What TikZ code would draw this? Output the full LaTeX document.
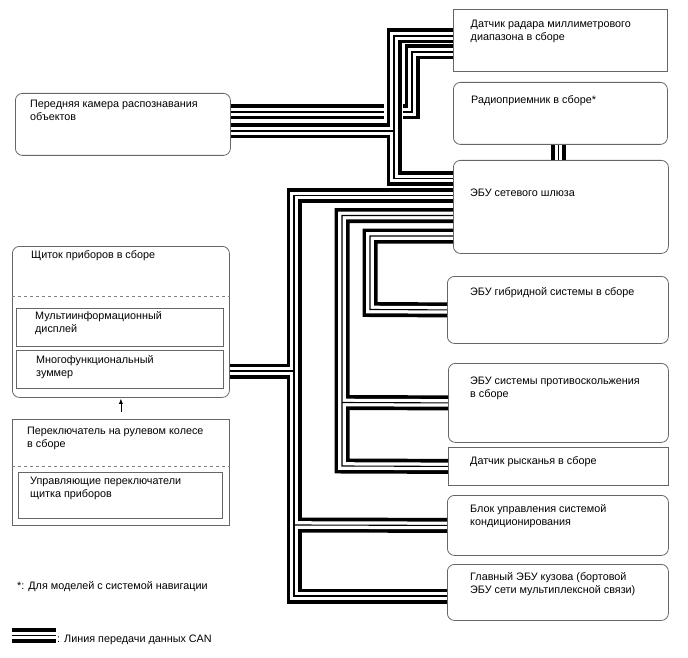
\documentclass[tikz,border=0pt]{standalone}
\usepackage{fontspec}
\setmainfont{Liberation Sans}
\usetikzlibrary{arrows.meta}

\tikzset{
  rbox/.style={draw=black!60, line width=0.8pt, rounded corners=7pt, anchor=north west, inner sep=0pt},
  sbox/.style={draw=black!60, line width=0.8pt, anchor=north west, inner sep=0pt},
  txt/.style={anchor=north west, align=left, inner sep=0pt, font=\fontsize{10.8}{13}\selectfont},
  divider/.style={draw=black!50, dashed, line width=0.6pt},
  busout/.style={line width=15pt, black},
  busin/.style={line width=7.6pt, white},
  buswire/.style={line width=1.1pt, black},
}

% all CAN lines, drawn once per layer
\newcommand\cannet[1]{%
  \draw[#1] (cam.east |- brL) -- (brL);
  \draw[#1] (brR) -- (a2) -- (a1) -- (radar.west |- a1);
  \draw[#1] (radar.west |- k1) -- (k1) -- (k1b) -- (gw.west |- k1b);
  \draw[#1] (cam.east |- j1) -- (j1);
  \draw[#1] (gw.west |- k2) -- (k2) -- (k2b) -- (mb.west |- k2b);
  \draw[#1] (cl.east |- j2) -- (j2);
  \draw[#1] (ac.west) -- (j3);
  \draw[#1] (gw.west |- k3) -- (k3) -- (k3b) -- (yaw.west);
  \draw[#1] (vsc.west) -- (j4);
  \draw[#1] (gw.west |- k4) -- (k4) -- (k4b) -- (hyb.west);
  \draw[#1] (radio.south -| k5) -- (gw.north -| k5);
  \draw[#1] (lg1) -- (lg2);
}

\begin{document}
\begin{tikzpicture}[x=1pt, y=-1pt]
    \useasboundingbox (0,0) rectangle (688,658);

    % right column
    \node[sbox, minimum width=214pt, minimum height=62pt] (radar) at (453,9) {};
    \node[rbox, minimum width=214pt, minimum height=62pt] (radio) at (453,82) {};
    \node[rbox, minimum width=215pt, minimum height=93pt] (gw) at (453,160) {};
    \node[rbox, minimum width=221pt, minimum height=67pt] (hyb) at (447,276) {};
    \node[rbox, minimum width=220pt, minimum height=79pt] (vsc) at (448,363) {};
    \node[sbox, minimum width=220pt, minimum height=38pt] (yaw) at (448,447) {};
    \node[rbox, minimum width=221pt, minimum height=60pt] (ac) at (447,495) {};
    \node[rbox, minimum width=221pt, minimum height=56pt] (mb) at (447,564) {};

    % left column
    \node[rbox, minimum width=215pt, minimum height=62pt] (cam) at (15,93) {};
    \node[rbox, minimum width=217pt, minimum height=151pt] (cl) at (12,246) {};
    \node[sbox, minimum width=207pt, minimum height=38pt] (mid) at (16,308) {};
    \node[sbox, minimum width=207pt, minimum height=38pt] (buz) at (16,350) {};
    \node[sbox, minimum width=217pt, minimum height=106pt] (sw) at (12,419) {};
    \node[sbox, minimum width=204pt, minimum height=46pt] (ctl) at (18,472) {};
    \draw[divider] ([yshift=-50pt]cl.north west) -- ([yshift=-50pt]cl.north east);
    \draw[divider] ([yshift=-47pt]sw.north west) -- ([yshift=-47pt]sw.north east);
    \draw[-{Latex[length=5pt,width=4pt]}, line width=0.6pt, shorten <=7pt, shorten >=1pt] (sw.north) -- (cl.south);

    % labels
    \node[txt] (radar-t) at (470.5,19.8) {Датчик радара миллиметрового\\диапазона в сборе};
    \node[txt] (radio-t) at (471,95.3) {Радиоприемник в сборе*};
    \node[txt] (gw-t) at (470,188.8) {ЭБУ сетевого шлюза};
    \node[txt] (hyb-t) at (470,287.3) {ЭБУ гибридной системы в сборе};
    \node[txt] (vsc-t) at (470,376.8) {ЭБУ системы противоскольжения\\в сборе};
    \node[txt] (yaw-t) at (470,456.3) {Датчик рысканья в сборе};
    \node[txt] (ac-t) at (470,503.8) {Блок управления системой\\кондиционирования};
    \node[txt] (mb-t) at (470,572.3) {Главный ЭБУ кузова (бортовой\\ЭБУ сети мультиплексной связи)};
    \node[txt] (cam-t) at (30,100.3) {Передняя камера распознавания\\объектов};
    \node[txt] (cl-t) at (31,250.3) {Щиток приборов в сборе};
    \node[txt] (mid-t) at (35,311.3) {Мультиинформационный\\дисплей};
    \node[txt] (buz-t) at (36,355.3) {Многофункциональный\\зуммер};
    \node[txt] (sw-t) at (27,427.3) {Переключатель на рулевом колесе\\в сборе};
    \node[txt] (ctl-t) at (30,477.3) {Управляющие переключатели\\щитка приборов};
    \node[txt] (note) at (17,581.3) {*: Для моделей с системой навигации};
    \node[txt] (leg-t) at (57,634.3) {: Линия передачи данных CAN};

    % bus rails
    \coordinate (brL) at (384,112);
    \coordinate (brR) at (403,112);
    \coordinate (a1) at (412,52);
    \coordinate (a2) at (412,112);
    \coordinate (k1) at (394,36);
    \coordinate (k1b) at (394,178.5);
    \coordinate (j1) at (394,131);
    \coordinate (k2) at (294,195.5);
    \coordinate (k2b) at (294,596);
    \coordinate (j2) at (294,371);
    \coordinate (j3) at (294,525);
    \coordinate (k3) at (342,215.5);
    \coordinate (k3b) at (342,466);
    \coordinate (j4) at (342,402.5);
    \coordinate (k4) at (370,236);
    \coordinate (k4b) at (370,309.5);
    \coordinate (k5) at (558.5,0);
    \coordinate (lg1) at (12,635.5);
    \coordinate (lg2) at (56,635.5);

    \cannet{busout}
    \cannet{busin}
    \cannet{buswire}
\end{tikzpicture}
\end{document}
